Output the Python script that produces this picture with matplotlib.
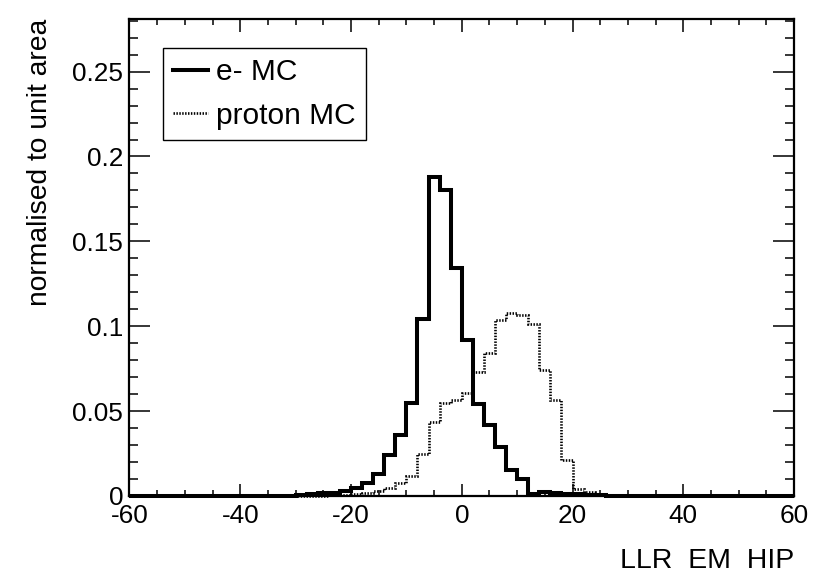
import matplotlib
matplotlib.use("Agg")
import matplotlib.pyplot as plt
from matplotlib.lines import Line2D
import numpy as np

plt.rcParams["font.family"] = ["Liberation Sans", "DejaVu Sans"]

# 60 bins of width 2 from -60 to 60, values normalised to unit area
x_lo, x_hi, n_bins = -60, 60, 60

e_minus = [
    0, 0, 0, 0, 0, 0, 0, 0, 0, 0,                                 # -60 .. -40
    0, 0, 0, 0, 0, 0.0005, 0.001, 0.0015, 0.002, 0.003,           # -40 .. -20
    0.0047, 0.0075, 0.0129, 0.0241, 0.0359, 0.0549, 0.1045, 0.1878, 0.180, 0.1345,  # -20 .. 0
    0.0918, 0.054, 0.0418, 0.029, 0.0153, 0.010, 0.001, 0.0025, 0.0015, 0.0012,     # 0 .. 20
    0.001, 0.0008, 0.0003, 0, 0, 0, 0, 0, 0, 0,                   # 20 .. 40
    0, 0, 0, 0, 0, 0, 0, 0, 0, 0,                                 # 40 .. 60
]
proton = [
    0, 0, 0, 0, 0, 0, 0, 0, 0, 0,
    0, 0, 0, 0, 0, 0, 0, 0, 0.0003, 0.0007,
    0.0012, 0.002, 0.003, 0.0047, 0.0076, 0.012, 0.025, 0.0437, 0.0547, 0.0565,
    0.0605, 0.073, 0.084, 0.1035, 0.108, 0.1065, 0.1016, 0.074, 0.0565, 0.021,
    0.004, 0.0025, 0.001, 0.0005, 0, 0, 0, 0, 0, 0,
    0, 0, 0, 0, 0, 0, 0, 0, 0, 0,
]

x_ticks = [-60, -40, -20, 0, 20, 40, 60]
x_tick_labels = ["-60", "-40", "-20", "0", "20", "40", "60"]
y_ticks = [0, 0.05, 0.1, 0.15, 0.2, 0.25]
y_tick_labels = ["0", "0.05", "0.1", "0.15", "0.2", "0.25"]
y_max = 0.281

edges = np.linspace(x_lo, x_hi, n_bins + 1)
dotted = (0, (0.55, 0.55))

fig = plt.figure(figsize=(8.36, 5.72), dpi=100)
ax = fig.add_axes([0.1549, 0.1329, 0.7949, 0.8339])

ax.stairs(e_minus, edges, color="black", lw=2.9, clip_on=False, zorder=3)
ax.stairs(proton, edges, color="black", lw=1.9, linestyle=dotted,
          clip_on=False, zorder=4)

ax.set_xlim(x_lo, x_hi)
ax.set_ylim(0, y_max)
ax.set_xticks(x_ticks)
ax.set_xticklabels(x_tick_labels)
ax.set_yticks(y_ticks)
ax.set_yticklabels(y_tick_labels)
ax.set_xticks(np.arange(-55, 60, 5), minor=True)
ax.set_yticks(np.arange(0, 0.28, 0.01), minor=True)

ax.tick_params(which="both", direction="in", top=True, right=True,
               width=1.1, labelsize=18.8)
ax.tick_params(axis="x", which="major", length=9, pad=6)
ax.tick_params(axis="x", which="minor", length=4.3)
ax.tick_params(axis="y", which="major", length=14.8, pad=4.5)
ax.tick_params(axis="y", which="minor", length=6.5)
for s in ax.spines.values():
    s.set_linewidth(1.6)

ax.set_xlabel("LLR  EM  HIP", fontsize=20.5, loc="right")
ax.xaxis.set_label_coords(1.0, -0.109)
ax.set_ylabel("normalised to unit area", fontsize=20.3, loc="top")
ax.yaxis.set_label_coords(-0.115, 1.0)

handles = [
    Line2D([], [], color="black", lw=2.9),
    Line2D([], [], color="black", lw=1.9, linestyle=dotted),
]
leg = ax.legend(handles, ["e- MC", "proton MC"], loc="upper left",
                bbox_to_anchor=(0.0504, 0.9392), borderaxespad=0,
                fontsize=21.5, fancybox=False, edgecolor="black", framealpha=1,
                handlelength=1.18, handletextpad=0.27, labelspacing=0.52,
                borderpad=0.34)
leg.get_frame().set_linewidth(1.0)

fig.savefig("out.png", dpi=100)
